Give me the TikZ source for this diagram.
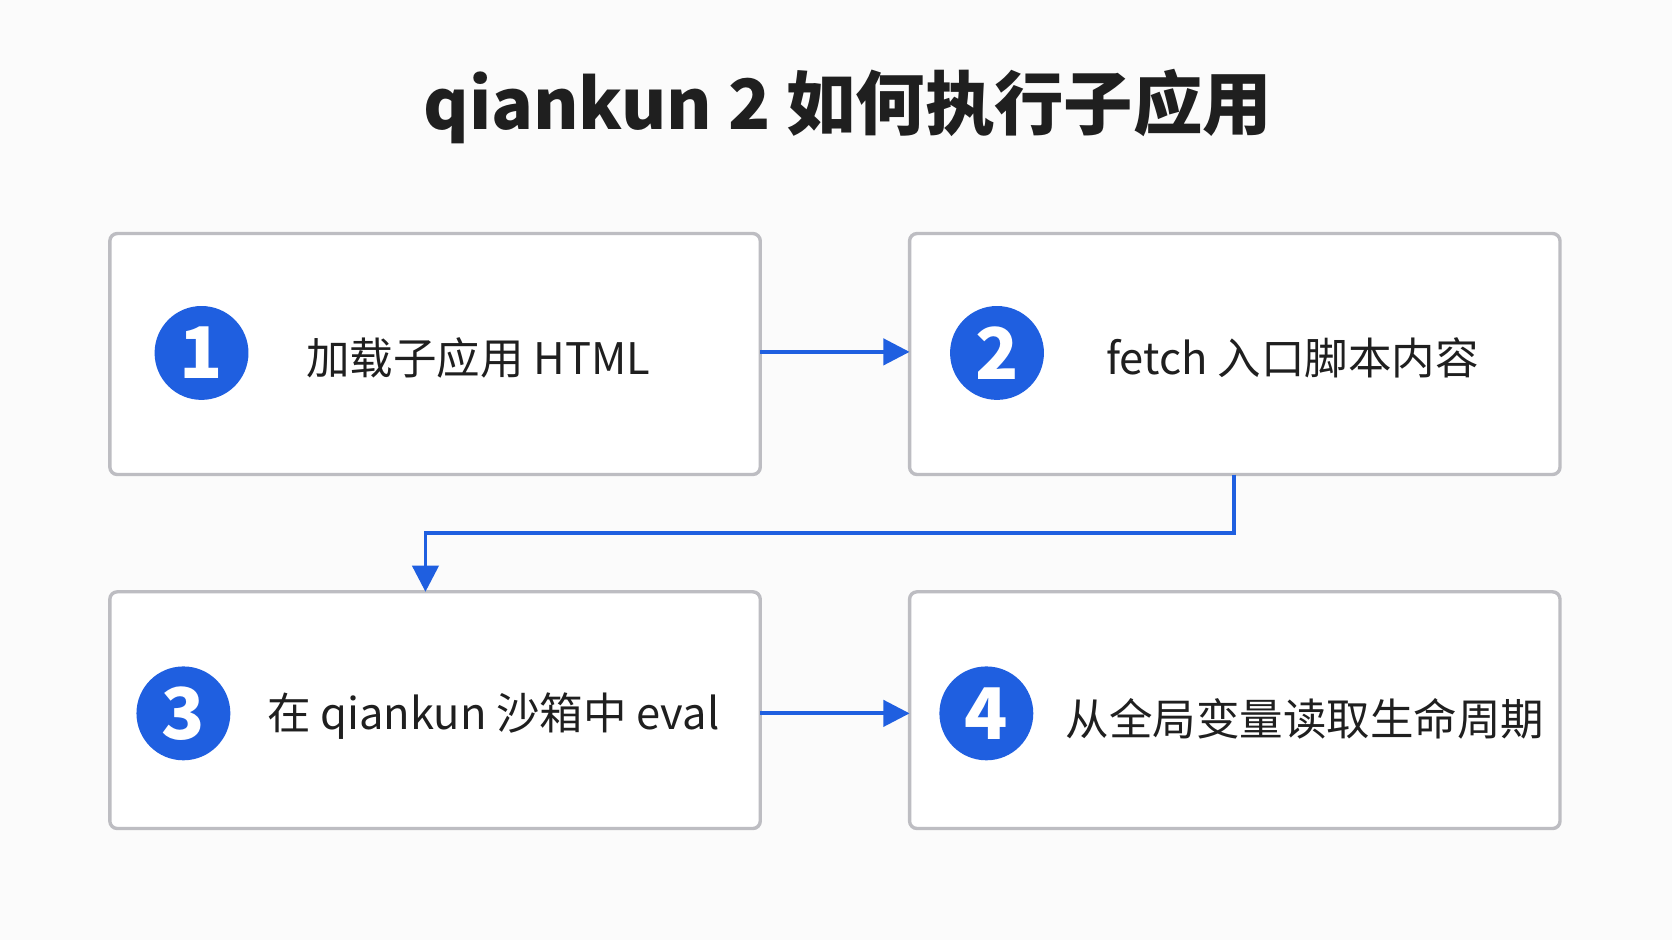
\documentclass[tikz,border=0pt]{standalone}
\usepackage{fontspec}
\setmainfont{Noto Sans CJK SC}
\usepackage{tikz}
\usetikzlibrary{arrows.meta}
\definecolor{stepblue}{HTML}{1F5FE0}
\definecolor{boxline}{HTML}{BDBDC2}
\tikzset{
    stepbox/.style={draw=boxline, line width=0.9pt, rounded corners=2pt, fill=white},
    stepnum/.style={circle, fill=stepblue, text=white, minimum size=0.88cm, inner sep=0pt, font=\fontsize{19}{19}\selectfont\bfseries},
    steptext/.style={anchor=west, font=\fontsize{11.6}{12}\selectfont, text=black!88},
    flow/.style={draw=stepblue, line width=1pt, -{Triangle[length=7pt,width=7pt]}}
}
\begin{document}
\begin{tikzpicture}[x=0.01cm, y=-0.01cm]
    \fill[white!97!gray] (0,0) rectangle (1568,882);
    \useasboundingbox (0,0) rectangle (1568,882);

    \node[font=\fontsize{18.5}{19}\selectfont\bfseries, text=black!88] (title) at (795,100) {qiankun 2 如何执行子应用};

    % the four steps
    \draw[stepbox] (103,219) rectangle (713,445);
    \draw[stepbox] (853,219) rectangle (1463,445);
    \draw[stepbox] (103,555) rectangle (713,777);
    \draw[stepbox] (853,555) rectangle (1463,777);
    \coordinate (b1e) at (713,330);
    \coordinate (b2w) at (853,330);
    \coordinate (b2s) at (1157,445);
    \coordinate (b3n) at (399,555);
    \coordinate (b3e) at (713,669);
    \coordinate (b4w) at (853,669);

    \node[stepnum] (n1) at (189,331) {1};
    \node[stepnum] (n2) at (935,331) {2};
    \node[stepnum] (n3) at (172,669) {3};
    \node[stepnum] (n4) at (925,669) {4};

    \node[steptext] (t1) at (275,336) {加载子应用 HTML};
    \node[steptext] (t2) at (1025,336) {fetch 入口脚本内容};
    \node[steptext] (t3) at (238,672) {在 qiankun 沙箱中 eval};
    \node[steptext] (t4) at (987,674) {从全局变量读取生命周期};

    \draw[flow] (b1e) -- (b2w);
    \draw[flow] (b3e) -- (b4w);
    \draw[flow] (b2s) -- (1157,500) -| (b3n);
\end{tikzpicture}
\end{document}
